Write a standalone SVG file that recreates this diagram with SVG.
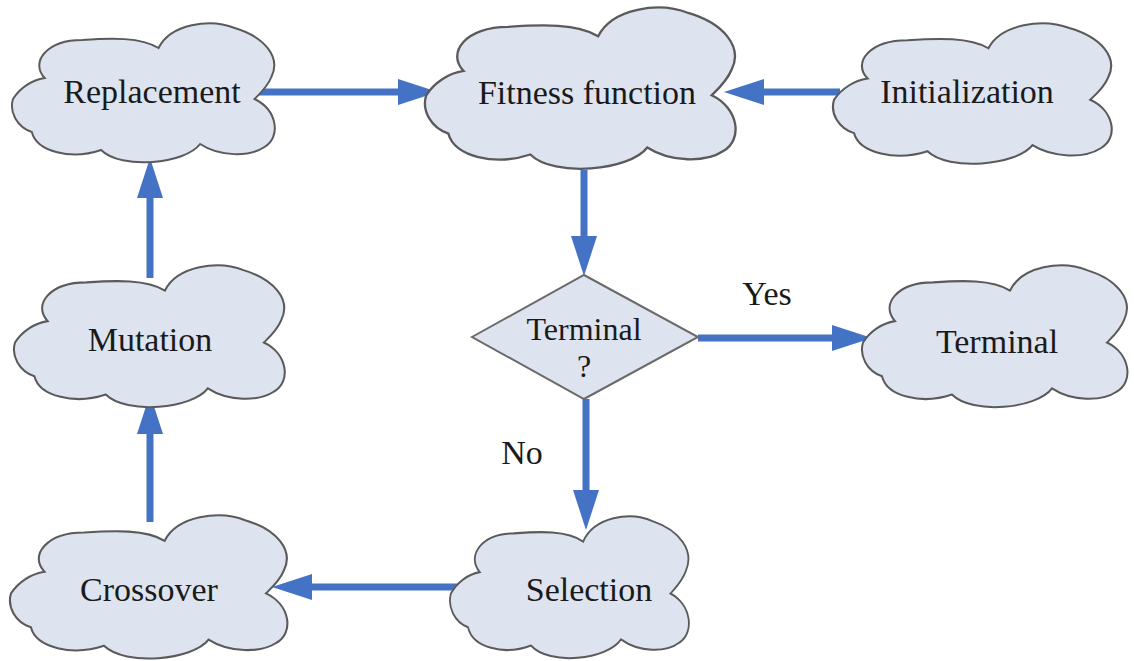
<svg xmlns="http://www.w3.org/2000/svg" xmlns:xlink="http://www.w3.org/1999/xlink" width="1134" height="661" viewBox="0 0 1134 661">
<style>
.cloud{fill:#dde4ef;stroke:#5a5a5a;stroke-width:2;vector-effect:non-scaling-stroke}
.dia{fill:#dde4ef;stroke:#6a6a6a;stroke-width:2}
.lbl{font-family:"Liberation Serif","Times New Roman",serif;font-size:34px;fill:#1a1a1a;text-anchor:middle}
.lbl.small{font-size:32px}
.conn{stroke:#4472c4;stroke-width:7;fill:none;marker-end:url(#ah)}
</style>
<defs>
<path id="cloudShape" d="M 1,77 C 8,66 20,58 33,56 C 18,40 35,18 71,18 C 100,16 130,15 148,26 C 160,2 200,-4 225,6 C 255,15 272,35 262,55 C 258,65 250,72 245,77 C 268,88 272,115 255,125 C 240,135 210,135 190,122 C 175,142 110,148 90,128 C 60,138 25,130 20,110 C 5,105 -3,90 1,77 Z"/>
<marker id="ah" markerUnits="userSpaceOnUse" markerWidth="42" markerHeight="28" refX="2" refY="13" orient="auto">
<path d="M0,0 L40,13 L0,26 z" fill="#4472c4"/>
</marker>
</defs>
<rect width="1134" height="661" fill="#ffffff"/>
<g id="connectors">
<line class="conn" x1="258" y1="92" x2="400" y2="92"/>
<line class="conn" x1="840" y1="92" x2="762" y2="92"/>
<line class="conn" x1="584" y1="170" x2="584" y2="238"/>
<line class="conn" x1="698" y1="338" x2="834" y2="338"/>
<line class="conn" x1="586" y1="399" x2="586" y2="492"/>
<line class="conn" x1="465" y1="587" x2="310" y2="587"/>
<line class="conn" x1="150" y1="522" x2="150" y2="432"/>
<line class="conn" x1="150" y1="278" x2="150" y2="196"/>
<text class="lbl" x="767" y="305">Yes</text>
<text class="lbl" x="522" y="464">No</text>
</g>
<g id="replacement">
<use xlink:href="#cloudShape" class="cloud" transform="translate(12,22) scale(0.99,1)"/>
<text class="lbl" x="152" y="103">Replacement</text>
</g>
<g id="fitness">
<use xlink:href="#cloudShape" class="cloud" transform="translate(425,6) scale(1.17,1.16)"/>
<text class="lbl" x="587" y="104">Fitness function</text>
</g>
<g id="initialization">
<use xlink:href="#cloudShape" class="cloud" transform="translate(833,22) scale(1.05,1.01)"/>
<text class="lbl" x="967" y="103">Initialization</text>
</g>
<g id="terminal-check">
<polygon class="dia" points="472,337 584,275 698,337 584,399"/>
<text class="lbl small" x="584" y="340">Terminal</text>
<text class="lbl small" x="584" y="377">?</text>
</g>
<g id="terminal">
<use xlink:href="#cloudShape" class="cloud" transform="translate(862,264) scale(1.0,1.02)"/>
<text class="lbl" x="997" y="353">Terminal</text>
</g>
<g id="mutation">
<use xlink:href="#cloudShape" class="cloud" transform="translate(14,264) scale(1.02,1.02)"/>
<text class="lbl" x="150" y="351">Mutation</text>
</g>
<g id="crossover">
<use xlink:href="#cloudShape" class="cloud" transform="translate(10,514) scale(1.045,1.03)"/>
<text class="lbl" x="149" y="601">Crossover</text>
</g>
<g id="selection">
<use xlink:href="#cloudShape" class="cloud" transform="translate(450,515) scale(0.9,1.02)"/>
<text class="lbl" x="589" y="601">Selection</text>
</g>
</svg>
